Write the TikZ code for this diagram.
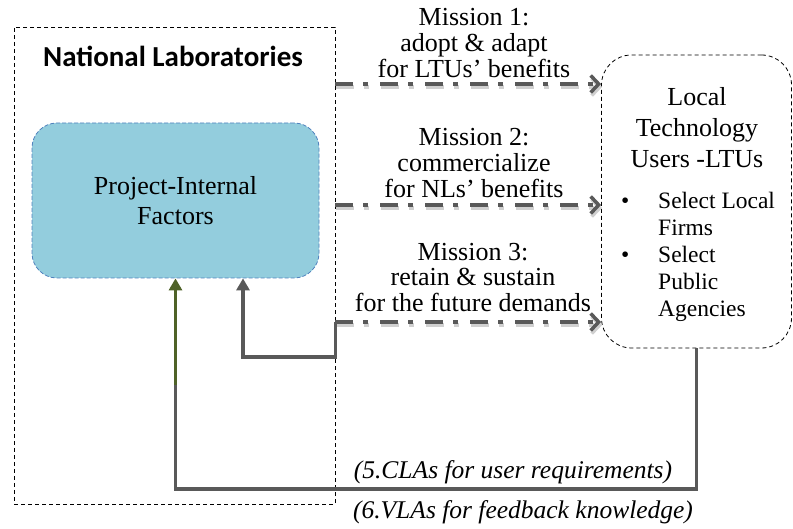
\documentclass[tikz,border=0pt]{standalone}
\usepackage{fontspec}
\setmainfont{Liberation Serif}
\newfontfamily\calib{Carlito}
\usetikzlibrary{arrows.meta,calc}
\definecolor{arrgray}{HTML}{595959}
\definecolor{shgray}{HTML}{D0D0D0}
\definecolor{boxblue}{HTML}{93CDDD}
\definecolor{boxedge}{HTML}{4F81BD}
\definecolor{olivegreen}{HTML}{4F6228}
\begin{document}
\begin{tikzpicture}[x=1pt,y=-1pt,
  txt/.style={font=\fontsize{26}{25.5}\selectfont, inner sep=0pt, align=center},
  mission/.style={draw=arrgray, line width=4.5pt,
    dash pattern=on 18pt off 10pt on 5pt off 12pt,
    -{Straight Barb[length=8pt,width=17pt,line width=3.5pt]}},
  missionshadow/.style={mission, draw=shgray, transform canvas={shift={(1pt,-3pt)}}},
  feed/.style={draw=arrgray, line width=3.5pt},
  outerbox/.style={draw=black, line width=0.8pt, dash pattern=on 4pt off 3pt, inner sep=0pt},
  lab/.style={font=\fontsize{25.5}{27}\selectfont\itshape, inner sep=0pt, anchor=base}]
\useasboundingbox (0,0) rectangle (793,529);

% boxes
\node[outerbox, minimum width=321pt, minimum height=477pt] (nl) at (174.5,265.5) {};
\node[font=\calib\bfseries\fontsize{29}{32}\selectfont, inner sep=0pt, anchor=base] (nltitle) at (173,67) {National Laboratories};
\node[draw=boxedge, fill=boxblue, line width=0.8pt, dash pattern=on 4pt off 2pt,
      rounded corners=25pt, minimum width=287pt, minimum height=155pt,
      font=\fontsize{26}{30}\selectfont, align=center, inner sep=0pt] (pif) at (175.5,200.5)
      {Project-Internal\\Factors};
\node[outerbox, rounded corners=30pt, minimum width=190pt, minimum height=293pt] (ltu) at (696.5,201.5) {};

% LTU texts
\node[txt, font=\fontsize{26}{31}\selectfont, anchor=north] (ltutitle) at (697,83.3)
  {\strut Local\\Technology\\Users -LTUs};
\node[inner sep=0pt, anchor=north west, font=\fontsize{23.5}{27}\selectfont] (ltulist) at (621,189.1)
  {\begin{tabular}{@{}p{37pt}@{}l@{}}
   \textbullet & Select Local\\
               & Firms\\
   \textbullet & Select\\
               & Public\\
               & Agencies
   \end{tabular}};

% mission labels
\node[txt, anchor=north] (m1) at (474,7.15) {\strut Mission 1:\\adopt \& adapt\\for LTUs' benefits};
\node[txt, anchor=north] (m2) at (474,127.15) {\strut Mission 2:\\commercialize\\for NLs' benefits};
\node[txt, anchor=north] (m3) at (473,242.15) {\strut Mission 3:\\retain \& sustain\\for the future demands};

% row coordinates
\coordinate (y1) at (0,84);
\coordinate (y2) at (0,205);
\coordinate (y3) at (0,322);
\coordinate (yf) at (0,357);
\coordinate (xf) at (243,0);
\coordinate (yb) at (0,489);
\coordinate (yg) at (0,385);

% mission arrows (shadow then main)
\foreach \yy in {y1,y2,y3}{
  \draw[missionshadow] (nl.east |- \yy) -- (ltu.west |- \yy);
  \draw[mission] (nl.east |- \yy) -- (ltu.west |- \yy);
}

% feedback from mission 3
\draw[feed, -{Triangle[length=12pt,width=13pt]}, line join=miter]
  (nl.east |- y3) -- (nl.east |- yf) -| (pif.south -| xf);

% bottom loop
\draw[feed, line join=miter] (ltu.south) -- (ltu.south |- yb) -| (pif.south |- yg);
\draw[draw=olivegreen, line width=3.5pt, -{Triangle[length=12pt,width=13pt]}]
  (pif.south |- yg) -- (pif.south);

% bottom labels
\node[lab] (l5) at (513,478) {(5.CLAs for user requirements)};
\node[lab] (l6) at (523,518) {(6.VLAs for feedback knowledge)};
\end{tikzpicture}
\end{document}
